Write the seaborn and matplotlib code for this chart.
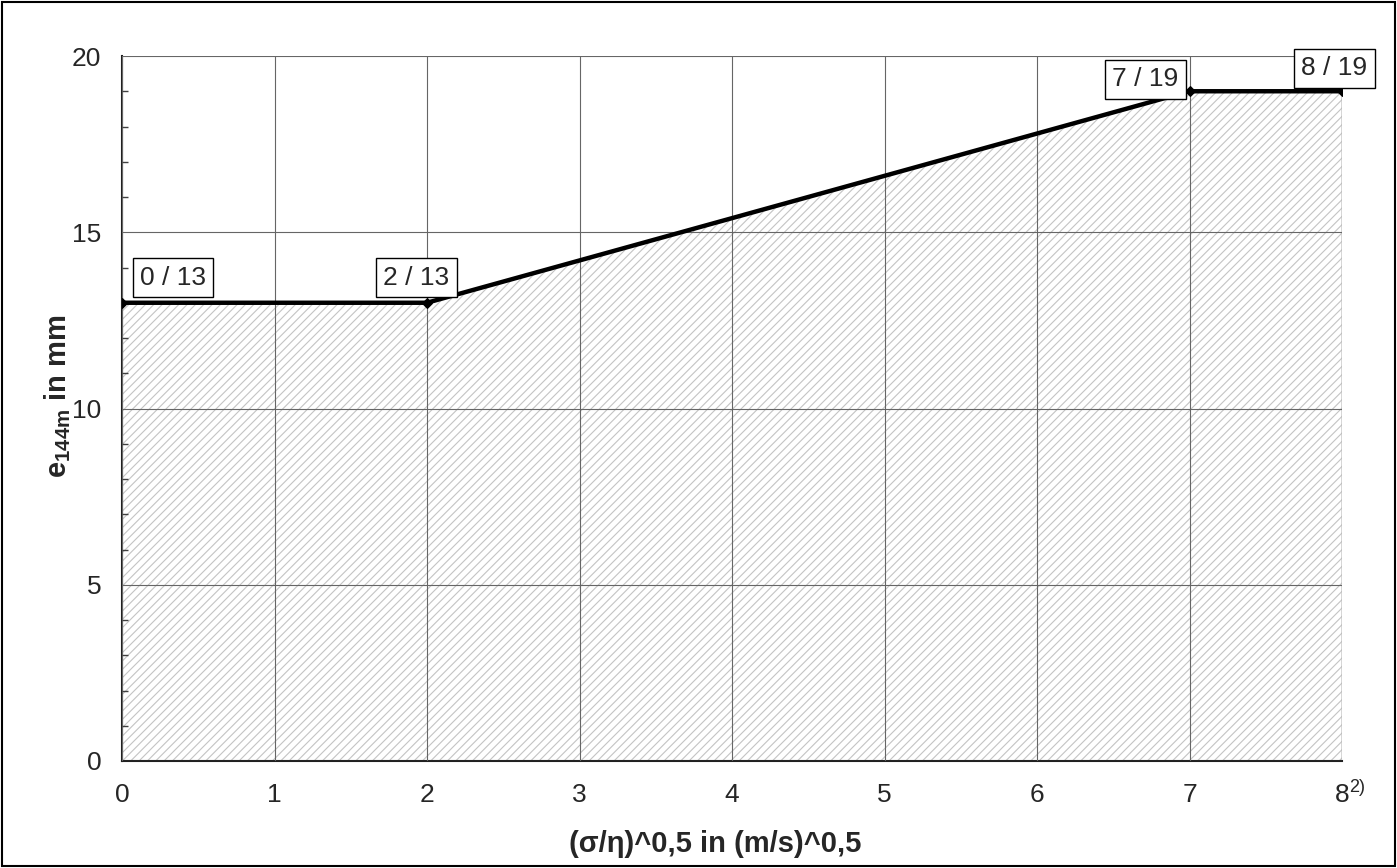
import matplotlib
matplotlib.use("Agg")
import matplotlib.pyplot as plt
import seaborn as sns
from matplotlib.patches import Rectangle
from matplotlib.ticker import MultipleLocator

# data
x_vals = [0, 2, 7, 8]
e_vals = [13, 13, 19, 19]
point_labels = ["0 / 13", "2 / 13", "7 / 19", "8 / 19"]
label_offsets = [(18, 13), (-44, 13), (-77, 0), (-41, 11)]  # pixels, bottom-left of text
x_ticks = [0, 1, 2, 3, 4, 5, 6, 7, 8]
y_ticks = [0, 5, 10, 15, 20]

sns.set_style("white")
plt.rcParams['font.family'] = ['Liberation Sans', 'DejaVu Sans']
plt.rcParams['mathtext.fontset'] = 'custom'
plt.rcParams['mathtext.rm'] = 'Liberation Sans'
plt.rcParams['mathtext.bf'] = 'Liberation Sans:bold'
plt.rcParams['hatch.linewidth'] = 0.8

fig = plt.figure(figsize=(13.97, 8.68), dpi=100)
ax = fig.add_axes([122 / 1397, 1 - 761 / 868, 1220 / 1397, 705 / 868])

# hatched area under the curve
ax.fill_between(x_vals, 0, e_vals, facecolor='white', edgecolor='#c4c4c4',
                hatch='////', linewidth=0.8, zorder=1)

sns.lineplot(x=x_vals, y=e_vals, ax=ax, color='black', linewidth=3.2,
             marker='D', markersize=5, markeredgecolor='black', zorder=4)

for xv, yv, lab, off in zip(x_vals, e_vals, point_labels, label_offsets):
    ax.annotate(lab, (xv, yv), xytext=off, textcoords='offset pixels',
                ha='left', va='bottom', fontsize=19, zorder=5,
                bbox=dict(boxstyle='square,pad=0.28', fc='white', ec='black', lw=1))

ax.set_xlim(0, 8)
ax.set_ylim(0, 20)
ax.set_xticks(x_ticks)
ax.set_yticks(y_ticks)
ax.yaxis.set_minor_locator(MultipleLocator(1))
ax.set_axisbelow(False)
ax.grid(True, which='major', color='#666666', linewidth=0.8, zorder=2)

ax.tick_params(axis='both', which='major', labelsize=19, direction='out',
               length=5, width=1, color='#404040')
ax.tick_params(axis='x', which='major', pad=11)
ax.tick_params(axis='y', which='major', pad=10)
ax.tick_params(axis='y', which='minor', direction='in', length=4, width=1,
               color='#404040', left=True)

for side in ['top', 'right']:
    ax.spines[side].set_visible(False)
for side in ['left', 'bottom']:
    ax.spines[side].set_color('#202020')
    ax.spines[side].set_linewidth(1.5)

# footnote marker on the last x tick
ax.annotate("2)", (8, 0), xycoords=ax.get_xaxis_transform(), xytext=(7, -35),
            textcoords='offset pixels', ha='left', va='bottom', fontsize=13)

ax.set_xlabel("(σ/η)^0,5 in (m/s)^0,5", fontsize=21, fontweight='bold')
ax.xaxis.set_label_coords(0.486, -0.098)
ax.set_ylabel(r"$\mathbf{e_{144m}}$ in mm", fontsize=21, fontweight='bold')
ax.yaxis.set_label_coords(-0.04, 0.518)

# outer frame
fig.patches.append(Rectangle((0.0015, 0.0025), 0.997, 0.995, transform=fig.transFigure,
                             fill=False, edgecolor='black', linewidth=1.5))

fig.savefig("out.png", dpi=100)
